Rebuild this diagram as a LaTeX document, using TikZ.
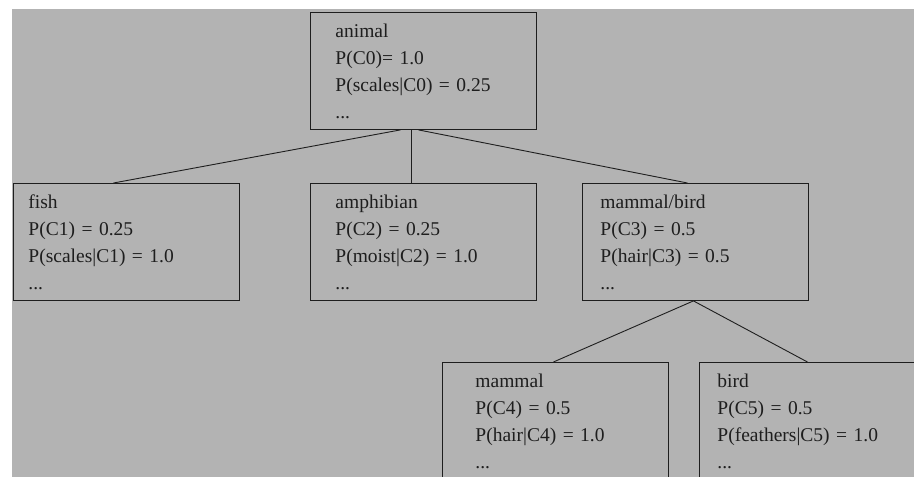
\documentclass[tikz,border=0pt]{standalone}
\usepackage{fontspec}
\setmainfont{Liberation Serif}
\usetikzlibrary{positioning}

\definecolor{panelgray}{RGB}{179,179,179}
\definecolor{inkgray}{RGB}{30,30,30}

\tikzset{
  concept/.style={draw=inkgray, line width=0.9pt, anchor=north west,
    minimum width=226pt, minimum height=117pt, align=left,
    text=inkgray, font=\fontsize{19.5}{27}\selectfont},
  link/.style={draw=inkgray, line width=0.9pt}
}

\begin{document}
\begin{tikzpicture}[x=1pt,y=-1pt]
\clip (0,0) rectangle (914,477);
\fill[panelgray] (12,9) rectangle (914,477);
% top level
\node[concept, inner xsep=25pt, text width=176pt] (animal) at (310,12)
  {animal\\P(C0)= 1.0\\P(scales|C0) = 0.25\\...};
% second level
\node[concept, inner xsep=15pt, text width=196pt] (fish) at (13,183)
  {fish\\P(C1) = 0.25\\P(scales|C1) = 1.0\\...};
\node[concept, inner xsep=25pt, text width=176pt] (amphibian) at (310,183)
  {amphibian\\P(C2) = 0.25\\P(moist|C2) = 1.0\\...};
\node[concept, inner xsep=18pt, text width=190pt] (mambird) at (582,183)
  {mammal/bird\\P(C3) = 0.5\\P(hair|C3) = 0.5\\...};
% third level
\node[concept, inner xsep=33pt, text width=160pt] (mammal) at (442,362)
  {mammal\\P(C4) = 0.5\\P(hair|C4) = 1.0\\...};
\node[concept, inner xsep=18pt, text width=190pt] (bird) at (699,362)
  {bird\\P(C5) = 0.5\\P(feathers|C5) = 1.0\\...};
% links
\draw[link] ([xshift=-23pt]animal.south) -- ([xshift=-13pt]fish.north);
\draw[link] ([xshift=-12pt]animal.south) -- ([xshift=-12pt]amphibian.north);
\draw[link] ([xshift=-5pt]animal.south) -- ([xshift=-8pt]mambird.north);
\draw[link] ([xshift=-2pt]mambird.south) -- ([xshift=-2pt]mammal.north);
\draw[link] ([xshift=-2pt]mambird.south) -- ([xshift=-5pt]bird.north);
\end{tikzpicture}
\end{document}
